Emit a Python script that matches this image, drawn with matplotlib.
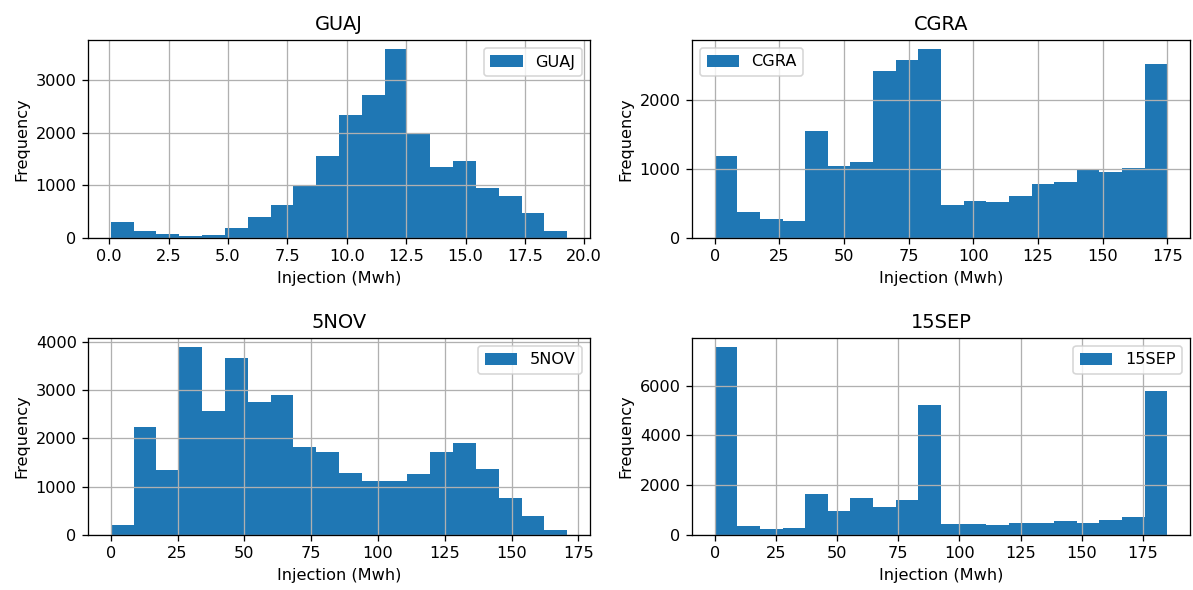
import numpy as np
import matplotlib
matplotlib.use("Agg")
import matplotlib.pyplot as plt
from matplotlib.ticker import MultipleLocator

# bin ranges (min, max) and counts per station, 20 bins each
names = ["GUAJ", "CGRA", "5NOV", "15SEP"]
ranges = [(0.07, 19.28), (0.0, 175.0), (0.0, 170.8), (0.0, 185.0)]

guaj = [305, 127, 76, 32, 51, 190, 400, 635, 997, 1562,
        2349, 2724, 3587, 1987, 1359, 1473, 959, 800, 476, 127]
cgra = [1186, 373, 281, 252, 1550, 1051, 1099, 2416, 2576, 2736,
        484, 537, 518, 605, 784, 818, 983, 964, 1017, 2528]
nov5 = [200, 2244, 1336, 3883, 2575, 3656, 2747, 2898, 1824, 1714,
        1287, 1108, 1108, 1267, 1714, 1914, 1363, 757, 399, 96]
sep15 = [7530, 347, 254, 294, 1629, 948, 1469, 1121, 1415, 5234,
         441, 441, 387, 494, 494, 547, 494, 601, 734, 5781]

counts = [guaj, cgra, nov5, sep15]
legend_loc = ["upper right", "upper left", "upper right", "upper right"]
ystep = [1000, 1000, 1000, 2000]

# the reference looks like a default plot rendered ~1.16x larger
DPI = 116
W, H = 1193, 590
fig = plt.figure(figsize=(W / DPI, H / DPI), dpi=DPI)
boxes = [(88, 40, 590, 238), (692, 40, 1190, 238),
         (88, 338, 590, 535), (692, 338, 1190, 535)]

for name, rng, c, loc, step, (l, t, r, b) in zip(names, ranges, counts, legend_loc, ystep, boxes):
    ax = fig.add_axes([l / W, 1 - b / H, (r - l) / W, (b - t) / H])
    edges = np.linspace(rng[0], rng[1], len(c) + 1)
    ax.hist(edges[:-1], bins=edges, weights=c, color="#1f77b4", label=name)
    ax.yaxis.set_major_locator(MultipleLocator(step))
    ax.grid(True)
    ax.set_title(name)
    ax.set_xlabel("Injection (Mwh)")
    ax.set_ylabel("Frequency")
    ax.legend(loc=loc)

fig.savefig("out.png", dpi=DPI)
